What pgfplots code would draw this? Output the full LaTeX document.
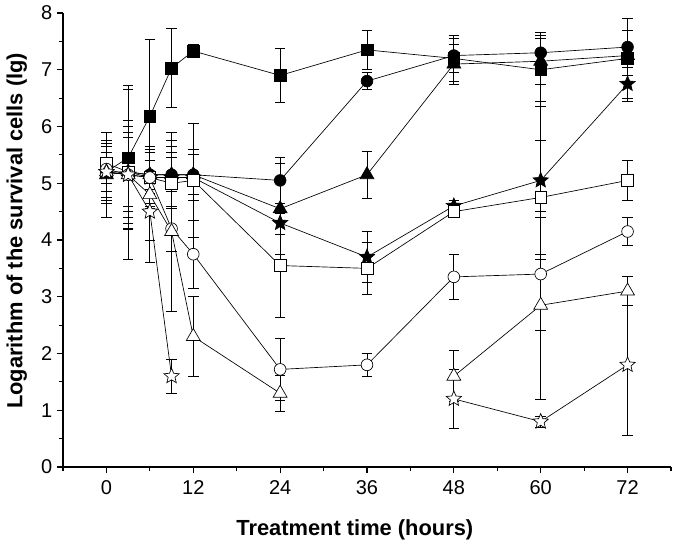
\documentclass[border=0pt]{standalone}
\usepackage{pgfplots}
\pgfplotsset{compat=1.18}
\usepackage{fontspec}
\setmainfont{Liberation Sans}

\pgfdeclareplotmark{pstar}{%
  \pgfpathmoveto{\pgfpointpolar{90}{1.0\pgfplotmarksize}}%
  \pgfpathlineto{\pgfpointpolar{126}{0.45\pgfplotmarksize}}%
  \pgfpathlineto{\pgfpointpolar{162}{1.0\pgfplotmarksize}}%
  \pgfpathlineto{\pgfpointpolar{198}{0.45\pgfplotmarksize}}%
  \pgfpathlineto{\pgfpointpolar{234}{1.0\pgfplotmarksize}}%
  \pgfpathlineto{\pgfpointpolar{270}{0.45\pgfplotmarksize}}%
  \pgfpathlineto{\pgfpointpolar{306}{1.0\pgfplotmarksize}}%
  \pgfpathlineto{\pgfpointpolar{342}{0.45\pgfplotmarksize}}%
  \pgfpathlineto{\pgfpointpolar{18}{1.0\pgfplotmarksize}}%
  \pgfpathlineto{\pgfpointpolar{54}{0.45\pgfplotmarksize}}%
  \pgfpathclose
  \pgfusepathqfillstroke
}

\begin{document}
\begin{tikzpicture}
\begin{axis}[
  scale only axis, width=456pt, height=340.5pt,
  xmin=-6, xmax=78, ymin=0, ymax=8,
  axis lines=left, axis line style={-, line width=0.8pt},
  xtick={0,12,...,72}, minor xtick={-6,6,...,78},
  ytick={0,...,8}, minor ytick={0.5,1.5,...,7.5},
  tick align=outside, major tick length=4.5pt, minor tick length=3pt,
  tick style={black, line width=0.8pt},
  ticklabel style={font=\fontsize{15}{15}\selectfont},
  xticklabel style={yshift=-2pt},
  /pgf/number format/assume math mode=true,
  xlabel={Treatment time (hours)},
  ylabel={Logarithm of the survival cells (lg)},
  label style={font=\bfseries\fontsize{16.4}{16.4}\selectfont},
  xlabel style={at={(axis description cs:0.48,-0.138)}, anchor=center},
  ylabel style={at={(axis description cs:-0.076,0.52)}, anchor=center},
  unbounded coords=jump,
  clip=false,
  every axis plot/.append style={black, solid, line width=0.5pt,
     mark options={solid, black, line width=0.7pt},
     error bars/y dir=both, error bars/y explicit,
     error bars/error mark options={black, solid, mark size=4pt, line width=0.6pt, rotate=90},
     error bars/error bar style={black, solid, line width=0.6pt}},
]
% filled square
\addplot[mark=square*, mark size=4.4pt, mark options={fill=black}] table[x=x,y=y,y error=e] {
x y e
0 5.20 0.55
3 5.45 1.27
6 6.18 1.35
9 7.03 0.70
12 7.33 0.12
24 6.90 0.47
36 7.35 0.35
48 7.20 0.40
60 7.00 0.65
72 7.20 0.70
};
% filled circle
\addplot[mark=*, mark size=4.4pt, mark options={fill=black}] table[x=x,y=y,y error=e] {
x y e
0 5.20 0.35
3 5.20 0.60
6 5.15 0.25
9 5.15 0.30
12 5.15 0.35
24 5.05 0.40
36 6.80 0.15
48 7.25 0.30
60 7.30 0.30
72 7.40 0.50
};
% filled triangle
\addplot[mark=triangle*, mark size=6pt, mark options={fill=black}] table[x=x,y=y,y error=e] {
x y e
0 5.15 0.75
3 5.20 0.80
6 5.15 0.40
9 5.15 0.60
12 5.15 0.45
24 4.55 0.80
36 5.15 0.42
48 7.10 0.35
60 7.15 0.40
72 7.25 0.45
};
% filled star
\addplot[mark=pstar, mark size=6pt, mark options={fill=black}] table[x=x,y=y,y error=e] {
x y e
0 5.20 0.50
3 5.15 0.95
6 5.10 0.45
9 5.10 0.55
12 5.10 0.40
24 4.30 0.20
36 3.70 0.45
48 4.60 0.10
60 5.05 1.40
72 6.75 0.30
};
% open square
\addplot[mark=square*, mark size=4.4pt, mark options={fill=white}] table[x=x,y=y,y error=e] {
x y e
0 5.35 0.35
3 5.20 0.70
6 5.10 0.50
9 5.00 0.90
12 5.05 1.00
24 3.55 0.92
36 3.50 0.45
48 4.50 0.10
60 4.75 1.00
72 5.05 0.35
};
% open circle
\addplot[mark=*, mark size=4.4pt, mark options={fill=white}] table[x=x,y=y,y error=e] {
x y e
0 5.25 0.40
3 5.15 0.75
6 5.10 0.55
9 4.20 0.40
12 3.75 0.60
24 1.72 0.55
36 1.80 0.20
48 3.35 0.40
60 3.40 1.00
72 4.15 0.25
};
% open triangle
\addplot[mark=triangle*, mark size=6pt, mark options={fill=white}] table[x=x,y=y,y error=e] {
x y e
0 5.20 0.45
3 5.15 0.85
6 4.80 0.80
9 4.15 1.40
12 2.30 0.70
24 1.30 0.32
36 nan nan
48 1.60 0.45
60 2.85 1.65
72 3.10 0.25
};
% open star
\addplot[mark=pstar, mark size=6pt, mark options={fill=white}] table[x=x,y=y,y error=e] {
x y e
0 5.20 0.45
3 5.15 1.50
6 4.50 0.90
9 1.60 0.30
12 nan nan
48 1.20 0.52
60 0.80 0.10
72 1.80 1.25
};
\end{axis}
\pgfresetboundingbox
\path[use as bounding box] (-47.25pt,-62.25pt) rectangle (459pt,350.25pt);
\end{tikzpicture}
\end{document}
